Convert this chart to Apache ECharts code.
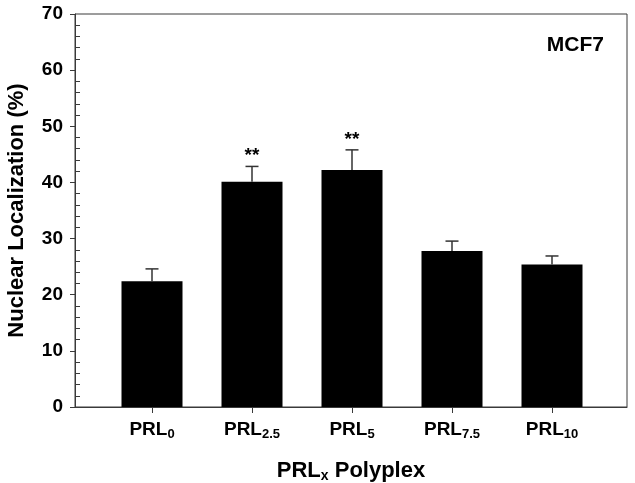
<!DOCTYPE html>
<html>
<head>
<meta charset="utf-8">
<script src="https://cdn.jsdelivr.net/npm/echarts@6/dist/echarts.min.js"></script>
<style>
html,body{margin:0;padding:0;background:#fff;}
#chart{width:635px;height:483px;}
</style>
</head>
<body>
<div id="chart"></div>
<script>
// ---- data ----
var categoryBase = 'PRL';
var categorySubs = ['0', '2.5', '5', '7.5', '10'];
var categoryPos = [1, 2, 3, 4, 5];
var meanValues = [22.4, 40.1, 42.2, 27.8, 25.4];
var errorValues = [2.2, 2.75, 3.6, 1.75, 1.5];
var significance = ['', '**', '**', '', ''];
var yMajorTicks = [0, 10, 20, 30, 40, 50, 60, 70];
var yMinorTicks = [2, 4, 6, 8, 12, 14, 16, 18, 22, 24, 26, 28, 32, 34, 36, 38, 42, 44, 46, 48, 52, 54, 56, 58, 62, 64, 66, 68];
var panelLabel = 'MCF7';
var xTitleBase = 'PRL';
var xTitleSub = 'x';
var xTitleRest = ' Polyplex';
var yTitle = 'Nuclear Localization (%)';

var FONT = '"Liberation Sans", Arial, sans-serif';
var AXIS_COLOR = '#3a3a3a';

var barData = categoryPos.map(function (x, i) { return [x, meanValues[i]]; });
var errData = categoryPos.map(function (x, i) { return [x, meanValues[i], errorValues[i], i]; });

var chart = echarts.init(document.getElementById('chart'), null, {renderer: 'canvas'});

var option = {
  backgroundColor: '#fff',
  animation: false,
  grid: {
    left: 75, right: 8, top: 14, bottom: 76,
    containLabel: false,
    outerBoundsMode: 'none',
    show: true, borderColor: AXIS_COLOR, borderWidth: 1, backgroundColor: 'transparent'
  },
  xAxis: {
    type: 'value',
    min: 0.23, max: 5.75,
    splitLine: {show: false},
    axisLine: {show: true, onZero: false, lineStyle: {color: AXIS_COLOR, width: 1}},
    axisTick: {show: true, length: 6, inside: false, customValues: categoryPos, lineStyle: {color: AXIS_COLOR}},
    axisLabel: {
      show: true,
      customValues: categoryPos,
      margin: 12,
      formatter: function (v) {
        var idx = categoryPos.indexOf(Math.round(v));
        if (idx < 0) return '';
        return '{m|' + categoryBase + '}{s|' + categorySubs[idx] + '}';
      },
      rich: {
        m: {fontFamily: FONT, fontWeight: 'bold', fontSize: 19, color: '#000', lineHeight: 22},
        s: {fontFamily: FONT, fontWeight: 'bold', fontSize: 13, color: '#000', lineHeight: 12, verticalAlign: 'bottom', padding: [12, 0, 0, 0]}
      }
    },
    name: '{m|' + xTitleBase + '}{s|' + xTitleSub + '}{m|' + xTitleRest + '}',
    nameLocation: 'middle',
    nameGap: 52,
    nameTextStyle: {
      rich: {
        m: {fontFamily: FONT, fontWeight: 'bold', fontSize: 22, color: '#000', lineHeight: 24},
        s: {fontFamily: FONT, fontWeight: 'bold', fontSize: 14, color: '#000', lineHeight: 13, verticalAlign: 'bottom', padding: [13, 0, 0, 0]}
      }
    }
  },
  yAxis: [{
    type: 'value',
    min: 0, max: 70, interval: 10,
    splitLine: {show: false},
    axisLine: {show: true, lineStyle: {color: AXIS_COLOR, width: 1}},
    axisTick: {show: true, length: 5, inside: false, lineStyle: {color: AXIS_COLOR}},
    axisLabel: {fontFamily: FONT, fontWeight: 'bold', fontSize: 19, color: '#000', margin: 12},
    name: yTitle,
    nameLocation: 'middle',
    nameRotate: 90,
    nameGap: 47,
    nameTextStyle: {fontFamily: FONT, fontWeight: 'bold', fontSize: 22, color: '#000'}
  }, {
    type: 'value',
    position: 'left',
    min: 0, max: 70,
    splitLine: {show: false},
    axisLine: {show: false},
    axisLabel: {show: false},
    axisTick: {show: true, length: 5, inside: true, customValues: yMinorTicks, lineStyle: {color: AXIS_COLOR}}
  }],
  series: [{
    type: 'bar',
    data: barData,
    barWidth: 61,
    itemStyle: {color: '#000'},
    z: 2
  }, {
    type: 'custom',
    z: 3,
    data: errData,
    encode: {x: 0, y: 1},
    renderItem: function (params, api) {
      var x = api.value(0), m = api.value(1), e = api.value(2), i = api.value(3);
      var base = api.coord([x, m]);
      var top = api.coord([x, m + e]);
      var half = 6.5;
      var children = [
        {type: 'line', shape: {x1: base[0], y1: base[1], x2: top[0], y2: top[1]}, style: {stroke: '#333', lineWidth: 1.5}},
        {type: 'line', shape: {x1: top[0] - half, y1: top[1], x2: top[0] + half, y2: top[1]}, style: {stroke: '#333', lineWidth: 1.5}}
      ];
      if (significance[i]) {
        children.push({type: 'text', style: {text: significance[i], x: top[0], y: top[1] - 1, align: 'center', verticalAlign: 'bottom', font: 'bold 19px ' + FONT, fill: '#000'}});
      }
      return {type: 'group', children: children};
    }
  }],
  graphic: [{
    type: 'text',
    right: 31, top: 35,
    style: {text: panelLabel, font: 'bold 21px ' + FONT, fill: '#000'}
  }]
};
chart.setOption(option);
</script>
</body>
</html>
